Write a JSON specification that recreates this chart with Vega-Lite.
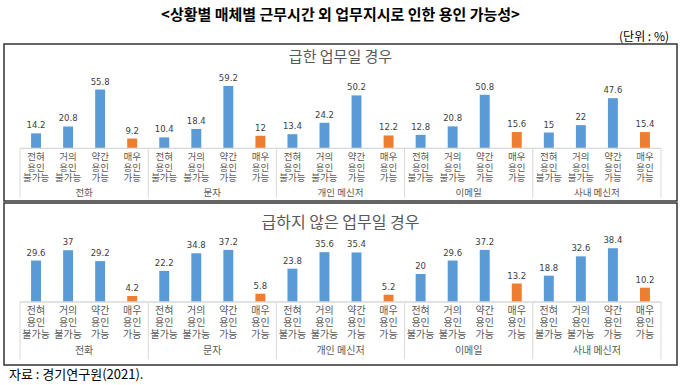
{
  "$schema": "https://vega.github.io/schema/vega-lite/v6.json",
  "padding": {"left": 3, "right": 4, "top": 8, "bottom": 0},
  "background": "white",
  "title": {"text": "<상황별 매체별 근무시간 외 업무지시로 인한 용인 가능성>", "fontSize": 15, "fontWeight": "bold", "font": "Noto Sans CJK KR", "color": "#000000", "anchor": "middle", "offset": 7},
  "config": {"view": {"stroke": "#333333", "strokeWidth": 1.5}, "font": "Noto Sans CJK KR"},
  "spacing": 0,
  "datasets": {
    "d": [
      {"panel": "급한", "media": "전화", "k": "급한|전화|1", "category": "전혀 용인 불가능", "value": 14.2},
      {"panel": "급한", "media": "전화", "k": "급한|전화|2", "category": "거의 용인 불가능", "value": 20.8},
      {"panel": "급한", "media": "전화", "k": "급한|전화|3", "category": "약간 용인 가능", "value": 55.8},
      {"panel": "급한", "media": "전화", "k": "급한|전화|4", "category": "매우 용인 가능", "value": 9.2},
      {"panel": "급한", "media": "문자", "k": "급한|문자|1", "category": "전혀 용인 불가능", "value": 10.4},
      {"panel": "급한", "media": "문자", "k": "급한|문자|2", "category": "거의 용인 불가능", "value": 18.4},
      {"panel": "급한", "media": "문자", "k": "급한|문자|3", "category": "약간 용인 가능", "value": 59.2},
      {"panel": "급한", "media": "문자", "k": "급한|문자|4", "category": "매우 용인 가능", "value": 12},
      {"panel": "급한", "media": "개인 메신저", "k": "급한|개인 메신저|1", "category": "전혀 용인 불가능", "value": 13.4},
      {"panel": "급한", "media": "개인 메신저", "k": "급한|개인 메신저|2", "category": "거의 용인 불가능", "value": 24.2},
      {"panel": "급한", "media": "개인 메신저", "k": "급한|개인 메신저|3", "category": "약간 용인 가능", "value": 50.2},
      {"panel": "급한", "media": "개인 메신저", "k": "급한|개인 메신저|4", "category": "매우 용인 가능", "value": 12.2},
      {"panel": "급한", "media": "이메일", "k": "급한|이메일|1", "category": "전혀 용인 불가능", "value": 12.8},
      {"panel": "급한", "media": "이메일", "k": "급한|이메일|2", "category": "거의 용인 불가능", "value": 20.8},
      {"panel": "급한", "media": "이메일", "k": "급한|이메일|3", "category": "약간 용인 가능", "value": 50.8},
      {"panel": "급한", "media": "이메일", "k": "급한|이메일|4", "category": "매우 용인 가능", "value": 15.6},
      {"panel": "급한", "media": "사내 메신저", "k": "급한|사내 메신저|1", "category": "전혀 용인 불가능", "value": 15},
      {"panel": "급한", "media": "사내 메신저", "k": "급한|사내 메신저|2", "category": "거의 용인 불가능", "value": 22},
      {"panel": "급한", "media": "사내 메신저", "k": "급한|사내 메신저|3", "category": "약간 용인 가능", "value": 47.6},
      {"panel": "급한", "media": "사내 메신저", "k": "급한|사내 메신저|4", "category": "매우 용인 가능", "value": 15.4},
      {"panel": "급하지 않은", "media": "전화", "k": "비|전화|1", "category": "전혀 용인 불가능", "value": 29.6},
      {"panel": "급하지 않은", "media": "전화", "k": "비|전화|2", "category": "거의 용인 불가능", "value": 37},
      {"panel": "급하지 않은", "media": "전화", "k": "비|전화|3", "category": "약간 용인 가능", "value": 29.2},
      {"panel": "급하지 않은", "media": "전화", "k": "비|전화|4", "category": "매우 용인 가능", "value": 4.2},
      {"panel": "급하지 않은", "media": "문자", "k": "비|문자|1", "category": "전혀 용인 불가능", "value": 22.2},
      {"panel": "급하지 않은", "media": "문자", "k": "비|문자|2", "category": "거의 용인 불가능", "value": 34.8},
      {"panel": "급하지 않은", "media": "문자", "k": "비|문자|3", "category": "약간 용인 가능", "value": 37.2},
      {"panel": "급하지 않은", "media": "문자", "k": "비|문자|4", "category": "매우 용인 가능", "value": 5.8},
      {"panel": "급하지 않은", "media": "개인 메신저", "k": "비|개인 메신저|1", "category": "전혀 용인 불가능", "value": 23.8},
      {"panel": "급하지 않은", "media": "개인 메신저", "k": "비|개인 메신저|2", "category": "거의 용인 불가능", "value": 35.6},
      {"panel": "급하지 않은", "media": "개인 메신저", "k": "비|개인 메신저|3", "category": "약간 용인 가능", "value": 35.4},
      {"panel": "급하지 않은", "media": "개인 메신저", "k": "비|개인 메신저|4", "category": "매우 용인 가능", "value": 5.2},
      {"panel": "급하지 않은", "media": "이메일", "k": "비|이메일|1", "category": "전혀 용인 불가능", "value": 20},
      {"panel": "급하지 않은", "media": "이메일", "k": "비|이메일|2", "category": "거의 용인 불가능", "value": 29.6},
      {"panel": "급하지 않은", "media": "이메일", "k": "비|이메일|3", "category": "약간 용인 가능", "value": 37.2},
      {"panel": "급하지 않은", "media": "이메일", "k": "비|이메일|4", "category": "매우 용인 가능", "value": 13.2},
      {"panel": "급하지 않은", "media": "사내 메신저", "k": "비|사내 메신저|1", "category": "전혀 용인 불가능", "value": 18.8},
      {"panel": "급하지 않은", "media": "사내 메신저", "k": "비|사내 메신저|2", "category": "거의 용인 불가능", "value": 32.6},
      {"panel": "급하지 않은", "media": "사내 메신저", "k": "비|사내 메신저|3", "category": "약간 용인 가능", "value": 38.4},
      {"panel": "급하지 않은", "media": "사내 메신저", "k": "비|사내 메신저|4", "category": "매우 용인 가능", "value": 10.2}
    ]
  },
  "vconcat": [
    {
      "width": 673,
      "height": 157,
      "title": {"text": "(단위 : %)", "anchor": "end", "fontSize": 12, "fontWeight": "normal", "color": "#000000", "offset": 0, "dx": -8},
      "data": {"name": "d"},
      "transform": [{"filter": "datum.panel == '급한'"}],
      "layer": [
        {
          "mark": {"type": "bar", "width": {"band": 0.31}},
          "encoding": {
            "x": {"field": "k", "type": "nominal", "sort": null, "scale": {"paddingInner": 0, "paddingOuter": 0.5}, "axis": null},
            "y": {"field": "value", "type": "quantitative", "scale": {"domain": [-50, 99], "nice": false, "zero": false}, "axis": null},
            "color": {"field": "category", "type": "nominal", "scale": {"domain": ["전혀 용인 불가능", "거의 용인 불가능", "약간 용인 가능", "매우 용인 가능"], "range": ["#5B9BD5", "#5B9BD5", "#5B9BD5", "#ED7D31"]}, "legend": null}
          }
        },
        {
          "mark": {"type": "text", "baseline": "bottom", "dy": -3, "fontSize": 8.5, "color": "#404040", "font": "DejaVu Sans"},
          "encoding": {
            "x": {"field": "k", "type": "nominal", "sort": null},
            "y": {"field": "value", "type": "quantitative"},
            "text": {"field": "value", "type": "nominal"}
          }
        },
        {
          "mark": {"type": "text", "baseline": "top", "lineBreak": " ", "lineHeight": 10.5, "fontSize": 9.5, "color": "#595959"},
          "encoding": {
            "x": {"field": "k", "type": "nominal", "sort": null},
            "y": {"datum": -3.5},
            "text": {"field": "category", "type": "nominal"}
          }
        },
        {
          "mark": {"type": "bar", "fill": "transparent", "stroke": "#d9d9d9", "strokeWidth": 1, "width": {"band": 1}},
          "encoding": {
            "x": {"field": "k", "type": "nominal", "sort": null},
            "y": {"datum": 0},
            "y2": {"datum": 0}
          }
        },
        {
          "transform": [{"filter": "datum.category == '전혀 용인 불가능'"}],
          "mark": {"type": "rule", "color": "#d9d9d9", "strokeWidth": 1},
          "encoding": {
            "x": {"field": "k", "type": "nominal", "sort": null, "bandPosition": 0},
            "y": {"datum": 0},
            "y2": {"datum": -47}
          }
        },
        {
          "transform": [{"filter": "datum.category == '매우 용인 가능' && datum.media == '사내 메신저'"}],
          "mark": {"type": "rule", "color": "#d9d9d9", "strokeWidth": 1},
          "encoding": {
            "x": {"field": "k", "type": "nominal", "sort": null, "bandPosition": 1},
            "y": {"datum": 0},
            "y2": {"datum": -47}
          }
        },
        {
          "transform": [{"filter": "datum.category == '약간 용인 가능'"}],
          "mark": {"type": "text", "baseline": "middle", "fontSize": 9.5, "color": "#595959"},
          "encoding": {
            "x": {"field": "k", "type": "nominal", "sort": null, "bandPosition": 0},
            "y": {"datum": -42.4},
            "text": {"field": "media", "type": "nominal"}
          }
        },
        {
          "transform": [{"filter": "datum.category == '약간 용인 가능' && datum.media == '개인 메신저'"}],
          "mark": {"type": "text", "baseline": "middle", "fontSize": 15, "color": "#595959"},
          "encoding": {
            "x": {"field": "k", "type": "nominal", "sort": null, "bandPosition": 0},
            "y": {"datum": 86.6},
            "text": {"value": "급한 업무일 경우"}
          }
        }
      ]
    },
    {
      "width": 673,
      "height": 162,
      "title": {"text": "자료 : 경기연구원(2021).", "orient": "bottom", "anchor": "start", "fontSize": 13, "fontWeight": "normal", "color": "#000000", "offset": 4, "dx": 5},
      "data": {"name": "d"},
      "transform": [{"filter": "datum.panel == '급하지 않은'"}],
      "layer": [
        {
          "mark": {"type": "bar", "width": {"band": 0.31}},
          "encoding": {
            "x": {"field": "k", "type": "nominal", "sort": null, "scale": {"paddingInner": 0, "paddingOuter": 0.5}, "axis": null},
            "y": {"field": "value", "type": "quantitative", "scale": {"domain": [-45, 70.7], "nice": false, "zero": false}, "axis": null},
            "color": {"field": "category", "type": "nominal", "scale": {"domain": ["전혀 용인 불가능", "거의 용인 불가능", "약간 용인 가능", "매우 용인 가능"], "range": ["#5B9BD5", "#5B9BD5", "#5B9BD5", "#ED7D31"]}, "legend": null}
          }
        },
        {
          "mark": {"type": "text", "baseline": "bottom", "dy": -3, "fontSize": 8.5, "color": "#404040", "font": "DejaVu Sans"},
          "encoding": {
            "x": {"field": "k", "type": "nominal", "sort": null},
            "y": {"field": "value", "type": "quantitative"},
            "text": {"field": "value", "type": "nominal"}
          }
        },
        {
          "mark": {"type": "text", "baseline": "top", "lineBreak": " ", "lineHeight": 12, "fontSize": 10, "color": "#595959"},
          "encoding": {
            "x": {"field": "k", "type": "nominal", "sort": null},
            "y": {"datum": -3.2},
            "text": {"field": "category", "type": "nominal"}
          }
        },
        {
          "mark": {"type": "bar", "fill": "transparent", "stroke": "#d9d9d9", "strokeWidth": 1, "width": {"band": 1}},
          "encoding": {
            "x": {"field": "k", "type": "nominal", "sort": null},
            "y": {"datum": 0},
            "y2": {"datum": 0}
          }
        },
        {
          "transform": [{"filter": "datum.category == '전혀 용인 불가능'"}],
          "mark": {"type": "rule", "color": "#d9d9d9", "strokeWidth": 1},
          "encoding": {
            "x": {"field": "k", "type": "nominal", "sort": null, "bandPosition": 0},
            "y": {"datum": 0},
            "y2": {"datum": -41}
          }
        },
        {
          "transform": [{"filter": "datum.category == '매우 용인 가능' && datum.media == '사내 메신저'"}],
          "mark": {"type": "rule", "color": "#d9d9d9", "strokeWidth": 1},
          "encoding": {
            "x": {"field": "k", "type": "nominal", "sort": null, "bandPosition": 1},
            "y": {"datum": 0},
            "y2": {"datum": -41}
          }
        },
        {
          "transform": [{"filter": "datum.category == '약간 용인 가능'"}],
          "mark": {"type": "text", "baseline": "middle", "fontSize": 10, "color": "#595959"},
          "encoding": {
            "x": {"field": "k", "type": "nominal", "sort": null, "bandPosition": 0},
            "y": {"datum": -35.2},
            "text": {"field": "media", "type": "nominal"}
          }
        },
        {
          "transform": [{"filter": "datum.category == '약간 용인 가능' && datum.media == '개인 메신저'"}],
          "mark": {"type": "text", "baseline": "middle", "fontSize": 16, "color": "#595959"},
          "encoding": {
            "x": {"field": "k", "type": "nominal", "sort": null, "bandPosition": 0},
            "y": {"datum": 56.4},
            "text": {"value": "급하지 않은 업무일 경우"}
          }
        }
      ]
    }
  ]
}
